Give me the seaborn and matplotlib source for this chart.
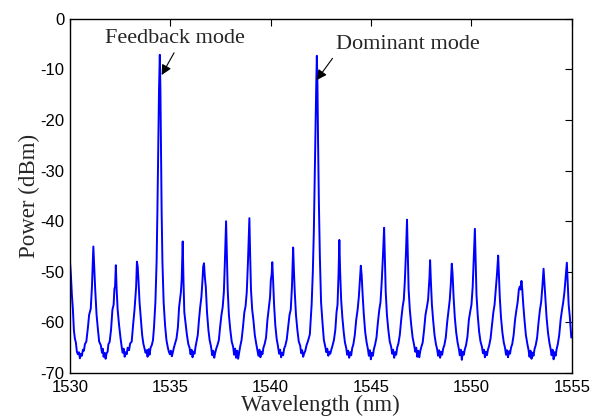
import numpy as np
import pandas as pd
import matplotlib
matplotlib.use("Agg")
import matplotlib.pyplot as plt
import seaborn as sns

# Spectrum trace, split into 5 nm spans (wavelength nm, power dBm)
span_1530 = [
    (1530.00, -47.7), (1530.05, -50.5), (1530.10, -54.5), (1530.15, -57.3), (1530.20, -61.5),
    (1530.25, -63.2), (1530.30, -64.0), (1530.35, -65.8), (1530.40, -66.3), (1530.45, -65.9),
    (1530.50, -67.1), (1530.55, -66.2), (1530.60, -66.6), (1530.65, -65.4), (1530.70, -65.6),
    (1530.75, -64.3), (1530.82, -63.8), (1530.90, -61.0), (1530.96, -58.5), (1531.04, -57.3),
    (1531.10, -53.0), (1531.17, -45.0), (1531.22, -49.5), (1531.26, -53.3), (1531.33, -58.5),
    (1531.40, -61.5), (1531.46, -63.8), (1531.54, -64.5), (1531.60, -66.0), (1531.64, -65.2),
    (1531.68, -66.8), (1531.73, -66.0), (1531.78, -67.2), (1531.83, -66.1), (1531.88, -65.8),
    (1531.92, -64.3), (1531.98, -63.9), (1532.05, -61.5), (1532.12, -57.5), (1532.18, -56.5),
    (1532.22, -53.3), (1532.25, -53.0), (1532.29, -48.7), (1532.33, -53.5), (1532.38, -57.5),
    (1532.45, -60.5), (1532.52, -63.0), (1532.58, -64.8), (1532.63, -66.0), (1532.68, -65.2),
    (1532.73, -66.8), (1532.78, -65.9), (1532.83, -66.3), (1532.88, -65.0), (1532.95, -65.5),
    (1533.00, -64.2), (1533.08, -63.8), (1533.15, -60.5), (1533.22, -57.5), (1533.30, -53.0),
    (1533.34, -48.0), (1533.38, -49.0), (1533.42, -51.9), (1533.47, -56.0), (1533.53, -59.0),
    (1533.60, -62.5), (1533.66, -64.2), (1533.72, -65.2), (1533.77, -66.0), (1533.82, -65.5),
    (1533.87, -66.8), (1533.92, -65.3), (1533.97, -66.4), (1534.02, -65.0), (1534.08, -64.5),
    (1534.14, -63.5), (1534.19, -61.0), (1534.26, -56.0), (1534.32, -48.0), (1534.36, -38.0),
    (1534.40, -26.0), (1534.44, -14.0), (1534.48, -7.1), (1534.51, -14.0), (1534.54, -26.0),
    (1534.57, -38.0), (1534.61, -48.0), (1534.67, -56.0), (1534.74, -60.5), (1534.81, -63.5),
    (1534.88, -65.0), (1534.93, -65.8), (1534.98, -66.3),
]
span_1535 = [
    (1535.03, -65.6), (1535.08, -66.7), (1535.13, -65.9), (1535.18, -65.0), (1535.24, -64.2),
    (1535.31, -63.2), (1535.38, -61.0), (1535.44, -57.0), (1535.47, -56.0), (1535.53, -54.0),
    (1535.57, -51.5), (1535.62, -44.0), (1535.66, -52.0), (1535.70, -58.0), (1535.76, -60.0),
    (1535.83, -62.5), (1535.90, -64.3), (1535.96, -65.0), (1536.01, -66.3), (1536.06, -65.4),
    (1536.11, -66.9), (1536.16, -65.8), (1536.21, -66.2), (1536.26, -64.8), (1536.31, -63.8),
    (1536.37, -62.5), (1536.43, -59.5), (1536.49, -57.0), (1536.55, -55.0), (1536.60, -52.0),
    (1536.64, -49.0), (1536.68, -48.3), (1536.72, -50.9), (1536.77, -53.0), (1536.83, -58.0),
    (1536.90, -61.5), (1536.96, -63.5), (1537.03, -64.8), (1537.09, -66.5), (1537.14, -65.6),
    (1537.19, -67.0), (1537.24, -66.0), (1537.29, -65.2), (1537.35, -64.5), (1537.42, -63.5),
    (1537.48, -61.0), (1537.55, -58.5), (1537.61, -57.0), (1537.67, -54.0), (1537.72, -48.0),
    (1537.78, -40.0), (1537.82, -47.0), (1537.86, -53.5), (1537.92, -58.5), (1537.99, -61.5),
    (1538.06, -63.8), (1538.13, -64.8), (1538.18, -66.4), (1538.23, -65.2), (1538.28, -67.0),
    (1538.33, -65.6), (1538.38, -67.2), (1538.43, -66.0), (1538.48, -64.8), (1538.55, -63.5),
    (1538.62, -61.0), (1538.69, -58.0), (1538.75, -56.8), (1538.81, -54.0), (1538.87, -48.0),
    (1538.94, -39.4), (1538.98, -47.0), (1539.02, -53.5), (1539.08, -57.5), (1539.14, -59.5),
    (1539.21, -62.5), (1539.28, -64.2), (1539.34, -65.5), (1539.39, -66.6), (1539.44, -65.4),
    (1539.49, -66.9), (1539.54, -65.8), (1539.59, -66.3), (1539.64, -65.0), (1539.70, -64.3),
    (1539.77, -63.0), (1539.84, -59.5), (1539.91, -57.0), (1539.97, -55.0),
]
span_1540 = [
    (1540.01, -51.6), (1540.05, -50.5), (1540.08, -48.1), (1540.12, -51.5), (1540.17, -56.5),
    (1540.23, -60.5), (1540.30, -63.3), (1540.36, -64.6), (1540.42, -66.2), (1540.47, -65.4),
    (1540.52, -66.9), (1540.57, -66.0), (1540.62, -66.5), (1540.67, -65.2), (1540.73, -64.6),
    (1540.80, -63.4), (1540.87, -61.0), (1540.94, -58.5), (1541.00, -57.5), (1541.06, -53.0),
    (1541.12, -45.2), (1541.16, -50.0), (1541.20, -54.0), (1541.26, -58.5), (1541.33, -61.5),
    (1541.40, -63.8), (1541.47, -64.6), (1541.52, -66.1), (1541.57, -65.5), (1541.62, -66.8),
    (1541.67, -66.1), (1541.72, -65.7), (1541.78, -64.6), (1541.85, -63.8), (1541.95, -62.4),
    (1542.04, -56.5), (1542.10, -50.0), (1542.15, -42.0), (1542.19, -32.0), (1542.23, -22.0),
    (1542.27, -13.0), (1542.30, -7.3), (1542.33, -13.0), (1542.36, -24.0), (1542.40, -36.0),
    (1542.45, -47.0), (1542.51, -56.0), (1542.58, -60.0), (1542.65, -63.5), (1542.72, -64.8),
    (1542.77, -65.9), (1542.82, -65.2), (1542.87, -66.6), (1542.92, -65.8), (1542.97, -66.2),
    (1543.02, -65.4), (1543.08, -64.6), (1543.15, -63.5), (1543.22, -61.5), (1543.28, -58.0),
    (1543.33, -56.5), (1543.38, -50.5), (1543.42, -43.7), (1543.46, -50.0), (1543.51, -55.5),
    (1543.57, -59.0), (1543.64, -62.0), (1543.70, -64.0), (1543.76, -65.0), (1543.81, -66.4),
    (1543.86, -65.6), (1543.91, -67.0), (1543.96, -65.9), (1544.01, -66.5), (1544.06, -65.1),
    (1544.12, -64.3), (1544.19, -62.5), (1544.26, -59.5), (1544.33, -57.5), (1544.39, -55.0),
    (1544.44, -52.0), (1544.49, -48.8), (1544.53, -50.6), (1544.58, -54.5), (1544.64, -58.5),
    (1544.71, -62.0), (1544.78, -64.0), (1544.84, -65.2), (1544.89, -66.6), (1544.94, -65.5),
    (1544.99, -67.3),
]
span_1545 = [
    (1545.04, -66.0), (1545.09, -66.6), (1545.14, -65.3), (1545.20, -64.4), (1545.27, -63.0),
    (1545.34, -60.0), (1545.41, -57.5), (1545.47, -56.0), (1545.53, -52.0), (1545.59, -47.0),
    (1545.65, -41.3), (1545.69, -47.5), (1545.73, -54.0), (1545.79, -58.5), (1545.86, -61.5),
    (1545.93, -63.8), (1546.00, -64.8), (1546.05, -66.2), (1546.10, -65.4), (1546.15, -67.0),
    (1546.20, -65.9), (1546.25, -66.4), (1546.30, -65.0), (1546.36, -64.2), (1546.43, -62.5),
    (1546.50, -59.5), (1546.57, -57.0), (1546.63, -55.5), (1546.68, -52.0), (1546.74, -46.0),
    (1546.79, -39.7), (1546.83, -46.5), (1546.87, -53.5), (1546.93, -57.5), (1547.00, -60.5),
    (1547.07, -63.0), (1547.14, -64.4), (1547.20, -65.8), (1547.25, -65.0), (1547.30, -66.8),
    (1547.35, -65.6), (1547.40, -66.9), (1547.45, -65.7), (1547.50, -64.9), (1547.57, -64.0),
    (1547.64, -61.5), (1547.71, -58.5), (1547.78, -57.0), (1547.84, -55.5), (1547.87, -53.6),
    (1547.91, -51.0), (1547.94, -47.7), (1547.98, -52.0), (1548.03, -56.5), (1548.09, -59.5),
    (1548.16, -62.5), (1548.23, -64.3), (1548.29, -65.3), (1548.34, -66.6), (1548.39, -65.5),
    (1548.44, -67.0), (1548.49, -65.8), (1548.54, -66.4), (1548.59, -65.2), (1548.65, -64.5),
    (1548.72, -63.0), (1548.79, -60.0), (1548.86, -57.5), (1548.92, -55.5), (1548.97, -52.5),
    (1549.02, -48.4), (1549.06, -50.5), (1549.11, -55.0), (1549.17, -59.0), (1549.24, -62.0),
    (1549.31, -64.0), (1549.37, -65.2), (1549.42, -66.5), (1549.47, -65.4), (1549.52, -67.4),
    (1549.57, -65.8), (1549.62, -66.4), (1549.67, -65.3), (1549.73, -64.5), (1549.80, -62.8),
    (1549.87, -59.5), (1549.94, -57.8),
]
span_1550 = [
    (1550.00, -56.5), (1550.06, -53.0), (1550.12, -47.0), (1550.17, -41.5), (1550.21, -48.0),
    (1550.25, -54.5), (1550.31, -58.5), (1550.38, -61.8), (1550.45, -63.8), (1550.52, -64.8),
    (1550.57, -66.1), (1550.62, -65.4), (1550.67, -66.9), (1550.72, -65.8), (1550.77, -66.5),
    (1550.82, -65.4), (1550.88, -64.6), (1550.95, -63.2), (1551.02, -60.5), (1551.09, -58.0),
    (1551.15, -56.5), (1551.21, -53.5), (1551.27, -50.5), (1551.33, -46.8), (1551.37, -51.0),
    (1551.41, -55.0), (1551.47, -59.0), (1551.54, -62.0), (1551.61, -64.0), (1551.67, -65.0),
    (1551.72, -66.4), (1551.77, -65.5), (1551.82, -66.9), (1551.87, -65.7), (1551.92, -66.2),
    (1551.97, -65.0), (1552.03, -64.3), (1552.10, -62.5), (1552.17, -59.5), (1552.24, -57.5),
    (1552.30, -56.0), (1552.36, -53.5), (1552.41, -52.9), (1552.45, -53.5), (1552.49, -51.8),
    (1552.53, -53.5), (1552.58, -56.5), (1552.64, -59.5), (1552.71, -62.5), (1552.78, -64.2),
    (1552.84, -65.4), (1552.89, -66.8), (1552.94, -65.6), (1552.99, -67.2), (1553.04, -66.0),
    (1553.09, -66.6), (1553.14, -65.3), (1553.20, -64.5), (1553.27, -63.0), (1553.34, -60.0),
    (1553.41, -57.5), (1553.47, -56.0), (1553.53, -53.0), (1553.59, -49.4), (1553.63, -52.0),
    (1553.68, -55.5), (1553.74, -59.0), (1553.81, -62.0), (1553.88, -64.0), (1553.94, -65.2),
    (1553.99, -66.5), (1554.04, -65.4), (1554.09, -67.3), (1554.14, -65.9), (1554.19, -66.6),
    (1554.24, -65.3), (1554.30, -64.3), (1554.37, -62.5), (1554.44, -59.5), (1554.51, -57.5),
    (1554.57, -56.0), (1554.63, -54.0), (1554.69, -51.0), (1554.75, -48.2), (1554.79, -52.0),
    (1554.84, -56.5), (1554.90, -59.0), (1554.97, -63.0),
]

x_ticks = [1530, 1535, 1540, 1545, 1550, 1555]
y_ticks = [0, -10, -20, -30, -40, -50, -60, -70]

# annotation labels: (text, text position, arrow tail, arrow head)
feedback_label = ("Feedback mode", (1535.23, -3.8), (1535.19, -6.7), (1534.57, -11.1))
dominant_label = ("Dominant mode", (1546.81, -5.1), (1543.08, -7.8), (1542.29, -12.1))

spectrum = pd.DataFrame(
    span_1530 + span_1535 + span_1540 + span_1545 + span_1550,
    columns=["wavelength", "power"],
)

sns.set_style("white")
plt.rcParams["font.family"] = ["Liberation Sans", "DejaVu Sans"]
plt.rcParams["axes.unicode_minus"] = False
serif = ["Liberation Serif", "DejaVu Serif"]

fig = plt.figure(figsize=(5.92, 4.2), dpi=100)
ax = fig.add_axes([0.118, 0.112, 0.848, 0.843])

sns.lineplot(data=spectrum, x="wavelength", y="power", ax=ax,
             color="#0000ff", linewidth=1.4, sort=False, estimator=None)

for text, text_pos, tail, head in [feedback_label, dominant_label]:
    ax.text(text_pos[0], text_pos[1], text, ha="center", va="center",
            fontsize=16, family=serif)
    ax.annotate("", xy=head, xytext=tail,
                arrowprops=dict(arrowstyle="-|>", color="black", lw=0.8,
                                mutation_scale=15, shrinkA=0, shrinkB=0))

ax.set_xlim(1530, 1555)
ax.set_ylim(-70, 0)
ax.set_xticks(x_ticks)
ax.set_yticks(y_ticks)
ax.tick_params(direction="in", length=5, width=0.8, top=True, right=True,
               labelsize=12, colors="black")
ax.tick_params(axis="x", pad=5)
ax.tick_params(axis="y", pad=4)
for spine in ax.spines.values():
    spine.set_color("black")
    spine.set_linewidth(1.0)

ax.set_xlabel("Wavelength (nm)", fontsize=16.5, family=serif, labelpad=0)
ax.set_ylabel("Power (dBm)", fontsize=16.5, family=serif, labelpad=0)

fig.savefig("out.png", dpi=100)
